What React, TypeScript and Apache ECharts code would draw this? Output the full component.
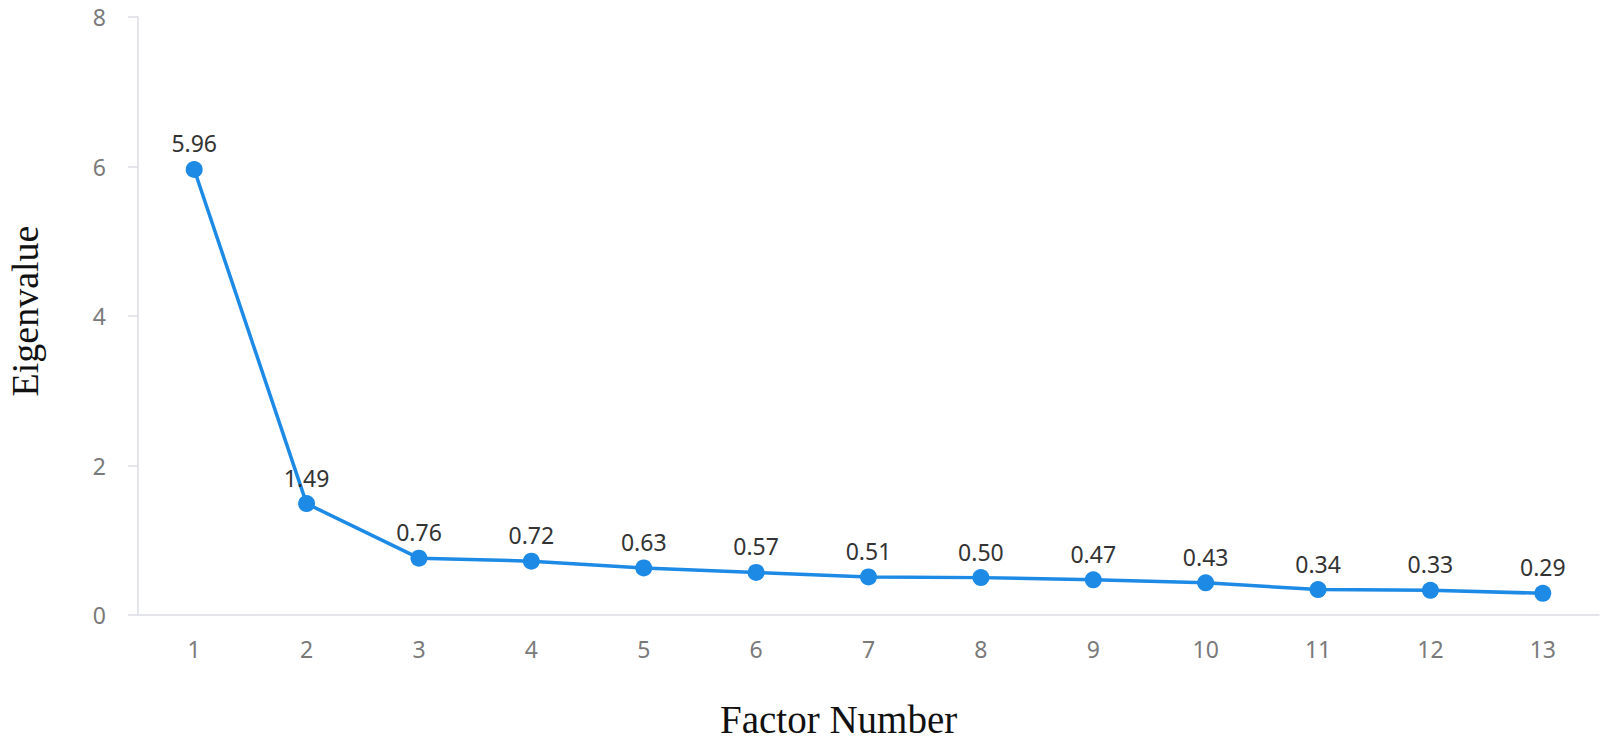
import React, { useEffect, useRef } from "react";
import * as echarts from "echarts";

const factors = ["1", "2", "3", "4", "5", "6", "7", "8", "9", "10", "11", "12", "13"];
const eigenvalues = [5.96, 1.49, 0.76, 0.72, 0.63, 0.57, 0.51, 0.5, 0.47, 0.43, 0.34, 0.33, 0.29];
const yTicks = { min: 0, max: 8, interval: 2 };
const xTitle = "Factor Number";
const yTitle = "Eigenvalue";

export default function App() {
  const ref = useRef<HTMLDivElement>(null);
  useEffect(() => {
    if (!ref.current) return;
    const chart = echarts.init(ref.current, null, { renderer: "svg" });
    chart.setOption({
      animation: false,
      backgroundColor: "#ffffff",
      grid: { left: 138, right: 3, top: 17, bottom: 125, containLabel: false },
      xAxis: {
        type: "category",
        data: factors,
        boundaryGap: true,
        axisLine: { show: true, lineStyle: { color: "#dcdde6", width: 1.5 } },
        axisTick: { show: false },
        axisLabel: {
          color: "#7a7a7a",
          fontSize: 23,
          fontFamily: "Noto Sans",
          margin: 22,
        },
        splitLine: { show: false },
      },
      yAxis: {
        type: "value",
        min: yTicks.min,
        max: yTicks.max,
        interval: yTicks.interval,
        axisLine: { show: true, lineStyle: { color: "#dcdde6", width: 1.5 } },
        axisTick: { show: true, length: 10, lineStyle: { color: "#dcdde6", width: 1.5 } },
        axisLabel: {
          color: "#7a7a7a",
          fontSize: 23,
          fontFamily: "Noto Sans",
          margin: 32,
        },
        splitLine: { show: false },
      },
      series: [
        {
          type: "line",
          data: eigenvalues,
          symbol: "circle",
          symbolSize: 17,
          itemStyle: { color: "#1d8ae6" },
          lineStyle: { color: "#1d8ae6", width: 3.5 },
          label: {
            show: true,
            position: "top",
            distance: 6,
            color: "#333333",
            fontSize: 23,
            fontFamily: "Noto Sans",
            formatter: (p: any) => p.value.toFixed(2),
          },
        },
      ],
      graphic: [
        {
          type: "text",
          left: 720,
          top: 700,
          style: {
            text: xTitle,
            fontSize: 39,
            fontFamily: "Liberation Serif",
            fill: "#111111",
          },
        },
        {
          type: "text",
          x: 6,
          y: 311,
          rotation: Math.PI / 2,
          style: {
            text: yTitle,
            fontSize: 38,
            fontFamily: "Liberation Serif",
            fill: "#111111",
            align: "center",
            verticalAlign: "top",
          },
        },
      ],
    });
    return () => chart.dispose();
  }, []);
  return (
    <div
      ref={ref}
      style={{ position: "fixed", left: 0, top: 0, width: 1602, height: 740 }}
    />
  );
}
